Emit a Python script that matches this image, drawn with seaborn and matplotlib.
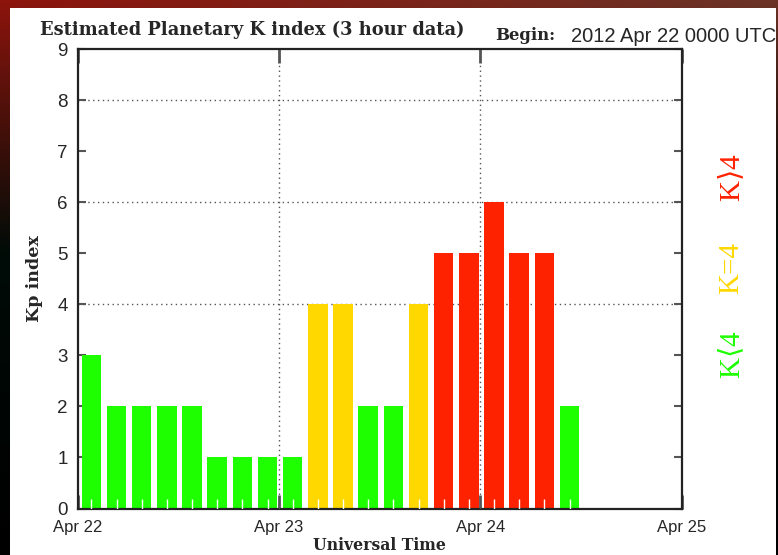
import numpy as np
import pandas as pd
import matplotlib
matplotlib.use('Agg')
import matplotlib.pyplot as plt
import seaborn as sns
from matplotlib.patches import Rectangle

# ============================================================================
# DATA
# ============================================================================
kp_values = [3, 2, 2, 2, 2, 1, 1, 1, 1, 4, 4, 2, 2, 4, 5, 5, 6, 5, 5, 2]
day_labels = ['Apr 22', 'Apr 23', 'Apr 24', 'Apr 25']
y_ticks = list(range(10))
grid_levels = [4, 6, 8]
begin_text = '2012 Apr 22 0000 UTC'

level_colors = {'low': '#1eff00', 'equal': '#ffd800', 'high': '#ff2200'}
level_labels = [('K$\\rangle$4', 'high'), ('K=4', 'equal'), ('K$\\langle$4', 'low')]

SERIF = ['DejaVu Serif']
LIGHT_SERIF = ['Liberation Serif', 'DejaVu Serif']
SANS = ['Liberation Sans', 'DejaVu Sans']


def kp_level(k):
    if k < 4:
        return 'low'
    if k == 4:
        return 'equal'
    return 'high'


df = pd.DataFrame({'slot': np.arange(len(kp_values)), 'kp': kp_values})
# each bar covers a 3 hour slot, 8 slots per day
df['day'] = (df['slot'] + 0.55) / 8.0
df['level'] = df['kp'].map(kp_level)

sns.set_style('white')
plt.rcParams['mathtext.fontset'] = 'dejavuserif'

fig = plt.figure(figsize=(7.78, 5.55), dpi=100)

# dark gradient backdrop around the white panel
bg = fig.add_axes([0, 0, 1, 1], zorder=-10)
yy, xx = np.mgrid[0:1:200j, 0:1:280j]
fade = (1 - yy * 3).clip(0, 1)
red = np.clip(0.55 * (1 - yy * 2.2) * (1 - 0.6 * xx), 0, 1) + 0.2 * xx * fade
green = 0.08 + 0.12 * xx * fade
blue = 0.05 + 0.1 * xx * fade
img = np.dstack([red, green * (1 - yy), blue * (1 - yy)]).clip(0, 1)
bg.imshow(img, aspect='auto', extent=[0, 1, 0, 1], origin='upper')
bg.add_patch(Rectangle((10 / 778, 0), 766 / 778, 547 / 555, facecolor='white', edgecolor='none'))
bg.set_xlim(0, 1)
bg.set_ylim(0, 1)
bg.axis('off')

ax = fig.add_axes([77.5 / 778, 46.5 / 555, 604 / 778, 459.5 / 555])
ax.set_facecolor('white')

sns.barplot(data=df, x='day', y='kp', hue='level', palette=level_colors,
            native_scale=True, dodge=False, width=0.78, saturation=1,
            errorbar=None, legend=False, linewidth=0, ax=ax)

# small white marks at the foot of each bar
ax.vlines(df['day'], 0, 0.18, colors='white', linewidth=1, zorder=3)

for lv in grid_levels:
    ax.axhline(lv, color='#555555', linestyle=(0, (1, 2.5)), linewidth=1, zorder=0.5)
for d in range(1, len(day_labels) - 1):
    ax.axvline(d, color='#555555', linestyle=(0, (1, 2.5)), linewidth=1, zorder=4)

ax.set_xlim(0, len(day_labels) - 1)
ax.set_ylim(0, 9)
ax.set_xticks(range(len(day_labels)))
ax.set_xticklabels(day_labels, fontsize=12, family=SANS)
ax.set_yticks(y_ticks)
ax.set_yticklabels([str(v) for v in y_ticks], fontsize=13.5, family=SANS)
ax.tick_params(axis='y', direction='in', length=6, width=1.5, color='#555555',
               left=True, right=True, pad=7)
ax.tick_params(axis='x', direction='in', length=10, width=2, color='#555555',
               bottom=True, top=True, pad=8)

for s in ax.spines.values():
    s.set_color('#222222')
    s.set_linewidth(1.6)
    s.set_visible(True)

ax.set_xlabel('Universal Time', fontsize=11.3, fontweight='bold', family=SERIF, labelpad=2)
ax.set_ylabel('Kp index', fontsize=12.6, fontweight='bold', family=SERIF, labelpad=10)

fig.text(40 / 778, 1 - 30 / 555, 'Estimated Planetary K index (3 hour data)',
         fontsize=12.9, fontweight='bold', family=SERIF, va='center', ha='left')
fig.text(495 / 778, 1 - 36 / 555, 'Begin:', fontsize=11.9, fontweight='bold',
         family=SERIF, va='center', ha='left')
fig.text(571 / 778, 1 - 36 / 555, begin_text, fontsize=14.5, family=SANS,
         va='center', ha='left')

for (label, lv), yc in zip(level_labels, [178, 268, 355]):
    fig.text(731 / 778, 1 - yc / 555, label, color=level_colors[lv], fontsize=21,
             family=LIGHT_SERIF, rotation=90, va='center', ha='center')

plt.savefig('out.png', dpi=100, facecolor='black')
plt.close()
